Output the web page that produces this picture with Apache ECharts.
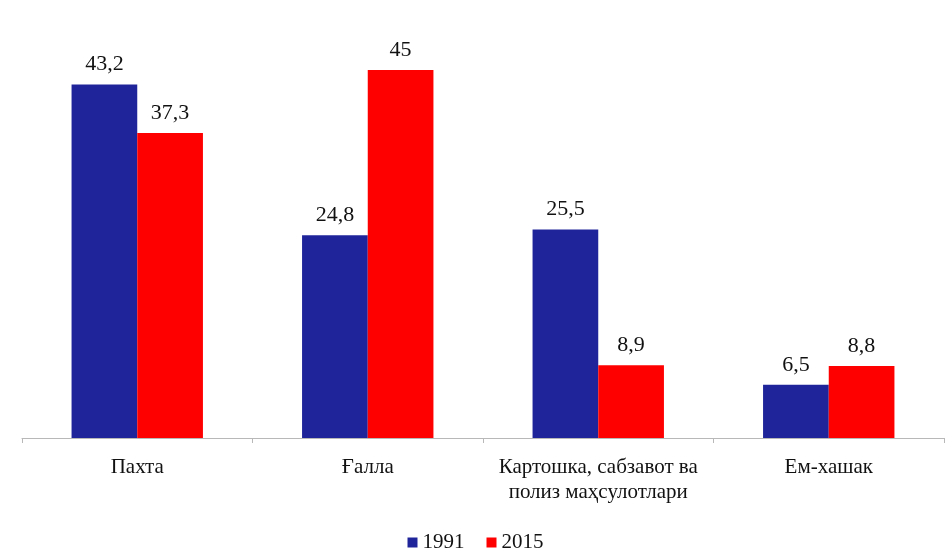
<!DOCTYPE html>
<html><head><meta charset="utf-8">
<script src="https://cdn.jsdelivr.net/npm/echarts@6/dist/echarts.min.js"></script>
<style>html,body{margin:0;padding:0;background:#fff}#c{width:951px;height:560px}</style>
</head><body><div id="c"></div>
<script>
const categories = ['Пахта', 'Ғалла', 'Картошка, сабзавот ва\nполиз маҳсулотлари', 'Ем-хашак'];
const seriesNames = ['1991', '2015'];
const values1991 = [43.2, 24.8, 25.5, 6.5];
const values2015 = [37.3, 45, 8.9, 8.8];
const colors = ['#1f249a', '#ff0000'];

const fmt = p => String(p.value).replace('.', ',');
const font = '"Liberation Serif", "DejaVu Serif", serif';
const chart = echarts.init(document.getElementById('c'));
chart.setOption({
  animation: false,
  textStyle: { fontFamily: font },
  grid: { left: 22, right: 7, top: 29, bottom: 122 },
  legend: {
    top: 527, left: 'center', itemWidth: 10, itemHeight: 10, itemGap: 22,
    icon: 'rect',
    textStyle: { fontFamily: font, fontSize: 21, color: '#111' },
    data: seriesNames
  },
  xAxis: {
    type: 'category', data: categories,
    axisLine: { lineStyle: { color: '#b8b8b8', width: 1 } },
    axisTick: { show: true, length: 5, lineStyle: { color: '#b8b8b8' } },
    axisLabel: { interval: 0, fontFamily: font, fontSize: 21, color: '#111', margin: 17, lineHeight: 25 }
  },
  yAxis: { type: 'value', min: 0, max: 50, show: false, splitLine: { show: false } },
  series: [
    { name: seriesNames[0], type: 'bar', data: values1991, barGap: '0%', barCategoryGap: '43%',
      itemStyle: { color: colors[0] },
      label: { show: true, position: 'top', distance: 9, formatter: fmt, fontFamily: font, fontSize: 22, color: '#111' } },
    { name: seriesNames[1], type: 'bar', data: values2015,
      itemStyle: { color: colors[1] },
      label: { show: true, position: 'top', distance: 9, formatter: fmt, fontFamily: font, fontSize: 22, color: '#111' } }
  ]
});
</script></body></html>
